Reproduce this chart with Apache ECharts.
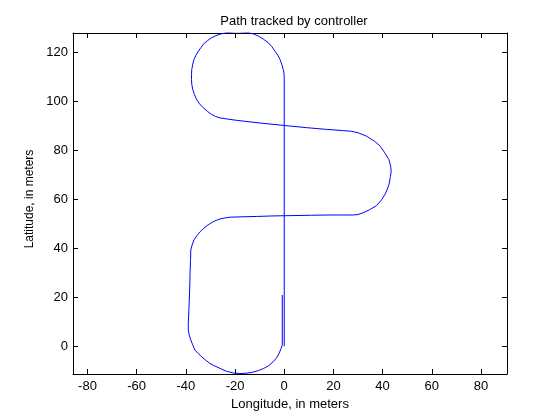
<!DOCTYPE html>
<html>
<head>
<meta charset="utf-8">
<script src="https://cdn.jsdelivr.net/npm/echarts@6/dist/echarts.min.js"></script>
<style>html,body{margin:0;padding:0;background:#fff}#c{width:560px;height:420px}</style>
</head>
<body>
<div id="c"></div>
<script>
// Tick labels
const xTicks = [-80, -60, -40, -20, 0, 20, 40, 60, 80];
const yTicks = [0, 20, 40, 60, 80, 100, 120];
// Path tracked: longitude (x) and latitude (y), in meters, in order
const pathLon = [
  -0.8, -0.8, -1.3, -2.0, -3.1, -4.5, -6.5, -8.5, -10.5, -13.0, -15.5, -18.0, -20.7, -23.5, -26.1, -28.3,
  -30.2, -32.0, -33.5, -35.0, -36.3, -37.2, -38.0, -38.6, -39.0, -39.0, -38.8, -38.6, -38.4, -38.3, -38.1,
  -38.0, -37.6, -36.7, -35.5, -34.2, -32.8, -31.5, -30.1, -28.8, -27.4, -26.1, -24.1, -22.1, -16.0, -11.2,
  -5.0, 0.0, 6.0, 11.1, 18.6, 24.0, 28.0, 30.0, 32.1, 34.8, 37.5, 39.6, 41.3, 42.6, 43.2, 43.5, 43.3,
  42.6, 40.9, 39.1, 36.8, 33.5, 30.1, 27.4, 24.0, 17.2, 9.1, 0.0, -9.9, -19.3, -23.0, -26.1, -28.0, -29.5,
  -31.3, -32.9, -34.4, -35.6, -36.5, -37.2, -37.6, -37.7, -37.7, -37.6, -37.2, -36.7, -35.9, -34.9, -33.9,
  -32.9, -31.3, -29.5, -27.8, -26.1, -23.4, -19.0, -14.6, -12.5, -10.6, -8.5, -6.5, -5.0, -3.8, -2.6, -1.7,
  -1.0, -0.4, -0.1, 0.0, 0.0
];
const pathLat = [
  20.9, 0.3, -1.0, -2.8, -4.8, -6.4, -8.1, -9.2, -10.0, -10.7, -11.1, -11.2, -11.0, -10.3, -9.1, -8.1,
  -7.1, -5.7, -4.4, -3.0, -1.6, 0.5, 2.5, 4.5, 6.6, 9.3, 14.0, 18.9, 25.0, 29.8, 35.0,
  39.3, 40.9, 43.4, 45.2, 46.8, 48.1, 49.2, 50.1, 50.9, 51.5, 52.0, 52.4, 52.7, 52.9, 53.0,
  53.2, 53.3, 53.4, 53.5, 53.6, 53.6, 53.6, 53.8, 54.5, 55.8, 57.4, 59.8, 62.6, 66.0, 69.4, 71.5, 73.5,
  76.2, 79.0, 81.7, 83.7, 85.8, 87.2, 87.8, 88.1, 88.6, 89.3, 90.2, 91.2, 92.3, 92.8, 93.3, 93.9, 94.7,
  96.0, 97.4, 99.0, 100.8, 102.8, 104.9, 107.0, 109.0, 111.0, 113.1, 115.2, 117.2, 118.9, 120.6, 122.0,
  123.4, 124.8, 126.1, 126.9, 127.5, 128.2, 128.5, 128.2, 127.6, 126.8, 125.5, 124.0, 122.4, 120.6, 118.9, 117.2,
  115.2, 113.1, 111.5, 109.7, 0.0
];

const pathData = pathLon.map((x, i) => [x, pathLat[i]]);
const X_MIN = -85.9, X_MAX = 90.6, Y_MIN = -11.4, Y_MAX = 128.0;
const font = 'Arial, "Liberation Sans", Helvetica, sans-serif';
const blk = '#000';

function xAx(pos, labels) {
  return {
    type: 'value', position: pos, min: X_MIN, max: X_MAX,
    axisLine: { show: true, onZero: false, lineStyle: { color: blk, width: 1 } },
    axisTick: { show: true, inside: true, length: 5, customValues: xTicks, lineStyle: { color: blk } },
    axisLabel: { show: labels, customValues: xTicks, color: blk, fontSize: 13, fontFamily: font, margin: 6 },
    splitLine: { show: false },
    name: labels ? 'Longitude, in meters' : '', nameLocation: 'middle', nameGap: 22,
    nameTextStyle: { color: blk, fontSize: 13, fontFamily: font }
  };
}
function yAx(pos, labels) {
  return {
    type: 'value', position: pos, min: Y_MIN, max: Y_MAX,
    axisLine: { show: true, onZero: false, lineStyle: { color: blk, width: 1 } },
    axisTick: { show: true, inside: true, length: 5, customValues: yTicks, lineStyle: { color: blk } },
    axisLabel: { show: labels, customValues: yTicks, color: blk, fontSize: 13, fontFamily: font, margin: 5 },
    splitLine: { show: false },
    name: labels ? 'Latitude, in meters' : '', nameLocation: 'middle', nameGap: 28,
    nameTextStyle: { color: blk, fontSize: 12, fontFamily: font, padding: [0, 0, 0, 9] }
  };
}

const chart = echarts.init(document.getElementById('c'), null, { renderer: 'canvas' });
chart.setOption({
  animation: false,
  backgroundColor: '#fff',
  title: {
    text: 'Path tracked by controller', left: 289, top: 10, textAlign: 'center',
    textStyle: { color: blk, fontSize: 13, fontWeight: 'normal', fontFamily: font }
  },
  grid: { left: 73, top: 33, right: 53, bottom: 46, containLabel: false },
  xAxis: [xAx('bottom', true), xAx('top', false)],
  yAxis: [yAx('left', true), yAx('right', false)],
  series: [{
    type: 'line', xAxisIndex: 0, yAxisIndex: 0, data: pathData,
    showSymbol: false, symbol: 'none', smooth: false, clip: true,
    lineStyle: { color: '#0000ff', width: 1 }
  }]
});
</script>
</body>
</html>
